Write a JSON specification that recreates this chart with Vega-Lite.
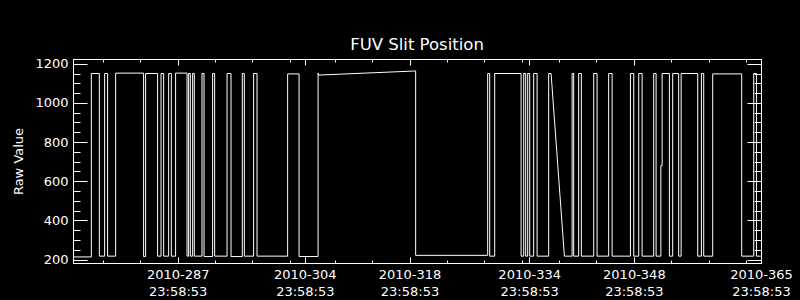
{
  "$schema": "https://vega.github.io/schema/vega-lite/v6.json",
  "width": 688,
  "height": 204,
  "autosize": "none",
  "padding": {"left": 73, "top": 59, "right": 39, "bottom": 37},
  "background": "black",
  "config": {
    "view": {"stroke": null},
    "axis": {
      "domainColor": "white",
      "domainWidth": 1,
      "tickColor": "white",
      "tickWidth": 1,
      "labelColor": "white",
      "titleColor": "white",
      "grid": false,
      "labelFont": "DejaVu Sans",
      "titleFont": "DejaVu Sans",
      "labelFontSize": 13,
      "titleFontSize": 13,
      "titleFontWeight": "normal"
    }
  },
  "title": {
    "text": "FUV Slit Position",
    "color": "white",
    "font": "DejaVu Sans",
    "fontSize": 16.5,
    "fontWeight": "normal",
    "anchor": "middle",
    "offset": 4
  },
  "data": {
    "values": [
      {"t": 274.00, "v": 214}, {"t": 276.45, "v": 214},
      {"t": 276.45, "v": 1150}, {"t": 277.52, "v": 1150},
      {"t": 277.52, "v": 218}, {"t": 278.23, "v": 218},
      {"t": 278.23, "v": 1150}, {"t": 278.63, "v": 1150},
      {"t": 278.63, "v": 218}, {"t": 279.70, "v": 218},
      {"t": 279.70, "v": 1152}, {"t": 283.44, "v": 1152},
      {"t": 283.44, "v": 216}, {"t": 283.71, "v": 216},
      {"t": 283.71, "v": 1150}, {"t": 285.31, "v": 1150},
      {"t": 285.31, "v": 218}, {"t": 285.77, "v": 218},
      {"t": 285.77, "v": 1150}, {"t": 286.12, "v": 1150},
      {"t": 286.12, "v": 218}, {"t": 286.79, "v": 218},
      {"t": 286.79, "v": 1150}, {"t": 287.15, "v": 1150},
      {"t": 287.15, "v": 218}, {"t": 287.72, "v": 218},
      {"t": 287.72, "v": 1152}, {"t": 289.25, "v": 1152},
      {"t": 289.25, "v": 218}, {"t": 289.46, "v": 218},
      {"t": 289.46, "v": 1150}, {"t": 289.69, "v": 1150},
      {"t": 289.69, "v": 218}, {"t": 290.00, "v": 218},
      {"t": 290.00, "v": 1150}, {"t": 290.22, "v": 1150},
      {"t": 290.22, "v": 218}, {"t": 291.25, "v": 218},
      {"t": 291.25, "v": 1150}, {"t": 291.52, "v": 1150},
      {"t": 291.52, "v": 216}, {"t": 292.67, "v": 216},
      {"t": 292.67, "v": 1150}, {"t": 292.94, "v": 1150},
      {"t": 292.94, "v": 218}, {"t": 294.60, "v": 218},
      {"t": 294.60, "v": 1150}, {"t": 295.13, "v": 1150},
      {"t": 295.13, "v": 216}, {"t": 296.64, "v": 216},
      {"t": 296.64, "v": 1150}, {"t": 296.91, "v": 1150},
      {"t": 296.91, "v": 218}, {"t": 298.15, "v": 218},
      {"t": 298.15, "v": 1150}, {"t": 298.61, "v": 1150},
      {"t": 298.61, "v": 218}, {"t": 302.70, "v": 218},
      {"t": 302.70, "v": 1148}, {"t": 304.23, "v": 1148},
      {"t": 304.23, "v": 216}, {"t": 306.77, "v": 216},
      {"t": 306.77, "v": 1152}, {"t": 306.85, "v": 1142}, {"t": 319.82, "v": 1163},
      {"t": 319.82, "v": 222}, {"t": 329.45, "v": 222},
      {"t": 329.45, "v": 1150}, {"t": 329.72, "v": 1150},
      {"t": 329.72, "v": 218}, {"t": 330.39, "v": 218},
      {"t": 330.39, "v": 1150}, {"t": 333.92, "v": 1150},
      {"t": 333.92, "v": 218}, {"t": 334.27, "v": 218},
      {"t": 334.27, "v": 1150}, {"t": 334.53, "v": 1150},
      {"t": 334.53, "v": 218}, {"t": 334.80, "v": 218},
      {"t": 334.80, "v": 1150}, {"t": 335.07, "v": 1150},
      {"t": 335.07, "v": 218}, {"t": 335.60, "v": 218},
      {"t": 335.60, "v": 1150}, {"t": 336.06, "v": 1150},
      {"t": 336.06, "v": 218}, {"t": 337.61, "v": 218},
      {"t": 337.61, "v": 1150}, {"t": 337.93, "v": 1150},
      {"t": 339.71, "v": 218}, {"t": 340.74, "v": 218},
      {"t": 340.74, "v": 1150}, {"t": 340.95, "v": 1150},
      {"t": 340.95, "v": 218}, {"t": 341.62, "v": 218},
      {"t": 341.62, "v": 1150}, {"t": 341.98, "v": 1150},
      {"t": 341.98, "v": 218}, {"t": 343.63, "v": 218},
      {"t": 343.63, "v": 1150}, {"t": 344.08, "v": 1150},
      {"t": 344.08, "v": 218}, {"t": 345.63, "v": 218},
      {"t": 345.63, "v": 1150}, {"t": 346.09, "v": 1150},
      {"t": 346.09, "v": 218}, {"t": 348.54, "v": 218},
      {"t": 348.54, "v": 1150}, {"t": 348.98, "v": 1150},
      {"t": 348.98, "v": 218}, {"t": 349.65, "v": 218},
      {"t": 349.65, "v": 1150}, {"t": 350.10, "v": 1150},
      {"t": 350.10, "v": 218}, {"t": 351.65, "v": 218},
      {"t": 351.65, "v": 1150}, {"t": 351.97, "v": 1150},
      {"t": 351.97, "v": 218}, {"t": 352.61, "v": 218},
      {"t": 352.61, "v": 680}, {"t": 352.78, "v": 680},
      {"t": 352.78, "v": 1150}, {"t": 353.75, "v": 1150},
      {"t": 353.75, "v": 218}, {"t": 354.19, "v": 218},
      {"t": 354.19, "v": 1150}, {"t": 354.99, "v": 1150},
      {"t": 354.99, "v": 218}, {"t": 355.32, "v": 218},
      {"t": 355.32, "v": 1150}, {"t": 357.54, "v": 1150},
      {"t": 357.54, "v": 218}, {"t": 358.03, "v": 218},
      {"t": 358.03, "v": 1150}, {"t": 358.34, "v": 1150},
      {"t": 358.34, "v": 218}, {"t": 359.54, "v": 218},
      {"t": 359.54, "v": 1148}, {"t": 363.42, "v": 1148},
      {"t": 363.42, "v": 218}, {"t": 365.03, "v": 218},
      {"t": 365.03, "v": 1150}, {"t": 365.39, "v": 1150},
      {"t": 365.39, "v": 218}, {"t": 365.95, "v": 218}
    ]
  },
  "resolve": {"axis": {"x": "independent", "y": "independent"}},
  "layer": [
    {
      "mark": {"type": "line", "color": "white", "strokeWidth": 1, "clip": true},
      "encoding": {
        "x": {
          "field": "t", "type": "quantitative",
          "scale": {"domain": [274, 366], "nice": false, "zero": false},
          "axis": {
            "orient": "bottom", "title": null,
            "values": [287.9992, 304.9992, 318.9992, 334.9992, 348.9992, 365.9992],
            "tickSize": -6, "labelPadding": 11,
            "labelExpr": "['2010-' + format(floor(datum.value), 'd'), '23:58:53']",
            "labelFlush": false, "labelOverlap": false, "labelBound": false,
            "labelBaseline": "top", "labelLineHeight": 17
          }
        },
        "y": {
          "field": "v", "type": "quantitative",
          "scale": {"domain": [183, 1224], "nice": false, "zero": false},
          "axis": {
            "orient": "left", "title": "Raw Value", "format": "d",
            "values": [200, 400, 600, 800, 1000, 1200],
            "tickSize": -14, "labelPadding": 19,
            "titleX": -55, "titleY": 102, "titleBaseline": "middle", "titleAlign": "center", "titleAngle": -90
          }
        },
        "order": {"value": null}
      }
    },
    {
      "mark": {"type": "point", "opacity": 0},
      "encoding": {
        "x": {
          "field": "t", "type": "quantitative",
          "axis": {
            "orient": "bottom", "title": null, "labels": false, "tickSize": -3,
            "values": [278, 283, 288, 293, 298, 303, 309, 314, 319, 324, 329, 334, 339, 344, 349, 354, 359, 364]
          }
        },
        "y": {
          "field": "v", "type": "quantitative",
          "axis": {
            "orient": "left", "title": null, "labels": false, "tickSize": -7,
            "values": [200, 250, 300, 350, 400, 450, 500, 550, 600, 650, 700, 750, 800, 850, 900, 950, 1000, 1050, 1100, 1150, 1200]
          }
        }
      }
    },
    {
      "mark": {"type": "point", "opacity": 0},
      "encoding": {
        "x": {
          "field": "t", "type": "quantitative",
          "axis": {
            "orient": "top", "title": null, "labels": false, "tickSize": -6,
            "values": [287.9992, 304.9992, 318.9992, 334.9992, 348.9992, 365.9992]
          }
        },
        "y": {
          "field": "v", "type": "quantitative",
          "axis": {
            "orient": "right", "title": null, "labels": false, "tickSize": -14,
            "values": [200, 400, 600, 800, 1000, 1200]
          }
        }
      }
    },
    {
      "mark": {"type": "point", "opacity": 0},
      "encoding": {
        "x": {
          "field": "t", "type": "quantitative",
          "axis": {
            "orient": "top", "title": null, "labels": false, "tickSize": -3,
            "values": [278, 283, 288, 293, 298, 303, 309, 314, 319, 324, 329, 334, 339, 344, 349, 354, 359, 364]
          }
        },
        "y": {
          "field": "v", "type": "quantitative",
          "axis": {
            "orient": "right", "title": null, "labels": false, "tickSize": -7,
            "values": [200, 250, 300, 350, 400, 450, 500, 550, 600, 650, 700, 750, 800, 850, 900, 950, 1000, 1050, 1100, 1150, 1200]
          }
        }
      }
    }
  ]
}
